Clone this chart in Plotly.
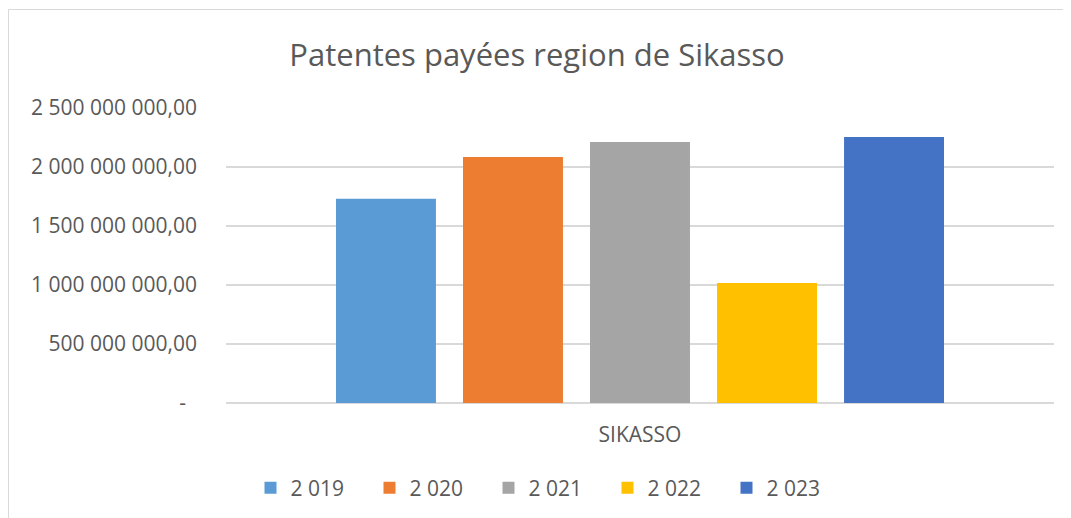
import plotly.graph_objects as go

categories = ["SIKASSO"]
series_names = ["2 019", "2 020", "2 021", "2 022", "2 023"]
series_values = [1730000000, 2085000000, 2212000000, 1018000000, 2254000000]
series_colors = ["#5B9BD5", "#ED7D31", "#A5A5A5", "#FFC000", "#4472C4"]
tick_vals = [0, 500000000, 1000000000, 1500000000, 2000000000, 2500000000]
tick_text = ["-\u00a0\u00a0", "500 000 000,00", "1 000 000 000,00", "1 500 000 000,00",
             "2 000 000 000,00", "2 500 000 000,00"]

# page body has an 8px default margin, so the figure is drawn 8px in from the window edge
OFF = 8
W, H = 1071 - OFF, 518 - OFF
L, T = 226 - OFF, 108 - OFF
R = W - (1054 - OFF)
B = H - (403 - OFF)
pw, ph = W - L - R, H - T - B

def px_x(p):
    return (p - OFF - L) / pw

def px_y(p):
    return (H - B - (p - OFF)) / ph

FONT = "Open Sans"
TXT = "#595959"
FS = 21

fig = go.Figure()
for name, val, col in zip(series_names, series_values, series_colors):
    fig.add_trace(go.Bar(x=categories, y=[val], name=name, marker_color=col,
                         marker_line_width=0))

fig.update_layout(
    width=W, height=H,
    margin=dict(l=L, r=R, t=T, b=B, autoexpand=False),
    paper_bgcolor="white", plot_bgcolor="white",
    barmode="group", bargap=0.233, bargroupgap=0.213,
    font=dict(family=FONT, color=TXT, size=FS),
    title=dict(text="Patentes payées region de Sikasso", x=(537 - OFF) / W, xanchor="center",
               xref="container", yref="container", y=1 - (55 - OFF) / H, yanchor="middle",
               font=dict(family=FONT, size=31, color=TXT)),
    showlegend=True,
    legend=dict(orientation="h", xref="container", x=(548 - OFF) / W, xanchor="center",
                y=px_y(488), yanchor="middle", font=dict(size=FS, color=TXT),
                entrywidth=74, entrywidthmode="pixels", traceorder="normal"),
    xaxis=dict(showgrid=False, showline=False, ticks="", ticklabelstandoff=17,
               tickfont=dict(size=FS, color=TXT)),
    yaxis=dict(range=[0, 2500000000], tickvals=tick_vals, ticktext=tick_text,
               showgrid=True, gridcolor="#D9D9D9", gridwidth=1.5,
               zeroline=True, zerolinecolor="#D9D9D9", zerolinewidth=1.5,
               showline=False, ticks="", ticklabelstandoff=28,
               tickfont=dict(size=FS, color=TXT)),
    shapes=[
        dict(type="line", xref="paper", yref="paper", x0=px_x(8.5), x1=px_x(1080),
             y0=px_y(9.5), y1=px_y(9.5), line=dict(color="#D9D9D9", width=1)),
        dict(type="line", xref="paper", yref="paper", x0=px_x(8.5), x1=px_x(8.5),
             y0=px_y(9.5), y1=px_y(530), line=dict(color="#D9D9D9", width=1)),
    ],
)

fig.write_html("out.html")
